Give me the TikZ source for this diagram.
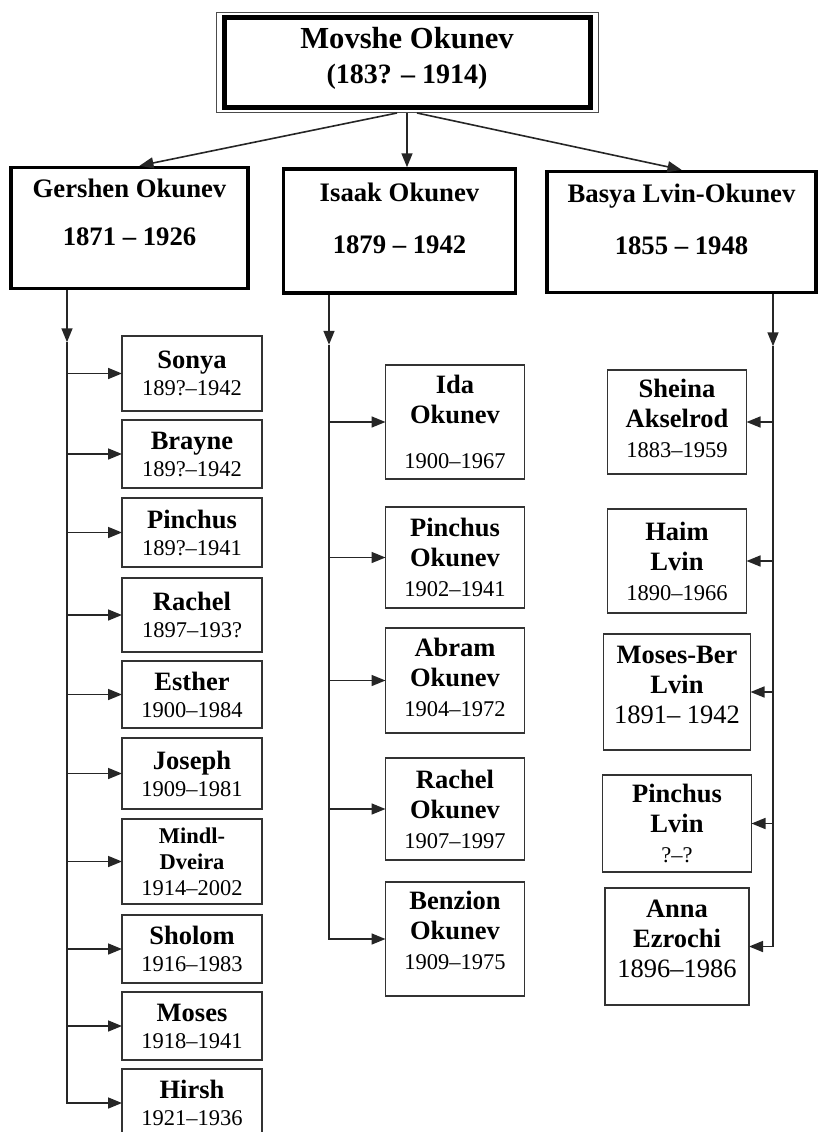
\documentclass[tikz,border=0pt]{standalone}
\usepackage{fontspec}
\setmainfont{Liberation Serif}
\usetikzlibrary{arrows.meta, positioning, fit}

\newcommand{\pname}[1]{{\fontsize{26.5}{30}\selectfont\bfseries #1}}

\begin{document}
\begin{tikzpicture}[
		x=1pt, y=-1pt,
		node distance=10pt,
		% Define styles
		founderbox/.style={rectangle, draw=black, line width=5pt, outer sep=0pt, minimum width=366pt, minimum height=90pt, align=center, font=\fontsize{30.6}{35}\selectfont\bfseries},
		outerframe/.style={rectangle, draw=black!70, line width=1pt, inner xsep=8pt, inner ysep=5pt},
		parentbox/.style={rectangle, draw=black, line width=3.5pt, align=center, font=\fontsize{26.7}{32}\selectfont\bfseries},
		childbox/.style={rectangle, draw=black!80, line width=1.4pt, outer sep=0pt, inner sep=2pt, minimum width=139pt, align=center, font=\fontsize{22.5}{30}\selectfont},
		gchildbox/.style={childbox, minimum width=140pt, font=\fontsize{22.5}{27}\selectfont},
		arrow/.style={draw=black!85, line width=1.6pt, -{Triangle[length=14pt, width=11pt]}},
		connector/.style={draw=black!85, line width=1.6pt}
		]
		\useasboundingbox (0,0) rectangle (819,1132);
		
		% Founder
		\node (movshe) [founderbox] at (407,62.5) {Movshe Okunev\\{\fontsize{28}{35}\selectfont (183? -- 1914)}\\[-20pt]\mbox{}};
		\node (frame) [outerframe, fit=(movshe)] {};
		
		% Second generation
		\node (gershen) [parentbox, minimum width=237pt, minimum height=121pt] at (129.5,228) {Gershen Okunev\\[16pt]1871 -- 1926\\\mbox{}};
		\node (isaak) [parentbox, minimum width=232pt, minimum height=124pt] at (399.5,231) {Isaak Okunev\\[20pt]1879 -- 1942\\[-6pt]\mbox{}};
		\node (basya) [parentbox, minimum width=269pt, minimum height=121pt] at (681.5,232) {Basya Lvin-Okunev\\[20pt]1855 -- 1948\\[-6pt]\mbox{}};
		
		% Gershen's children
		\node (sonya) [gchildbox, minimum height=75pt] at (192,373.5) {\pname{Sonya}\\189?--1942};
		\node (brayne) [gchildbox, minimum height=68pt, below=9pt of sonya] {\pname{Brayne}\\189?--1942};
		\node (pinchusg) [gchildbox, minimum height=69pt, below=of brayne] {\pname{Pinchus}\\189?--1941};
		\node (rachelg) [gchildbox, minimum height=74pt, below=11pt of pinchusg] {\pname{Rachel}\\1897--193?};
		\node (esther) [gchildbox, minimum height=67pt, below=9pt of rachelg] {\pname{Esther}\\1900--1984};
		\node (joseph) [gchildbox, minimum height=71pt, below=of esther] {\pname{Joseph}\\1909--1981};
		\node (mindl) [gchildbox, minimum height=85pt, below=of joseph, font=\fontsize{22.5}{26}\selectfont] {\textbf{Mindl-}\\\textbf{Dveira}\\1914--2002};
		\node (sholom) [gchildbox, minimum height=68pt, below=11pt of mindl] {\pname{Sholom}\\1916--1983};
		\node (moses) [gchildbox, minimum height=68pt, below=9pt of sholom] {\pname{Moses}\\1918--1941};
		\node (hirsh) [gchildbox, minimum height=68pt, below=9pt of moses] {\pname{Hirsh}\\1921--1936};
		
		% Isaak's children
		\node (ida) [childbox, minimum height=114pt] at (455,422) {\pname{Ida}\\\pname{Okunev}\\[15pt]1900--1967};
		\node (pinchusi) [childbox, minimum height=101pt, below=28pt of ida] {\pname{Pinchus}\\\pname{Okunev}\\1902--1941};
		\node (abram) [childbox, minimum height=105pt, below=20pt of pinchusi] {\pname{Abram}\\\pname{Okunev}\\1904--1972\\[-24pt]\mbox{}};
		\node (racheli) [childbox, minimum height=102pt, below=25pt of abram] {\pname{Rachel}\\\pname{Okunev}\\1907--1997};
		\node (benzion) [childbox, minimum height=114pt, below=22pt of racheli] {\pname{Benzion}\\\pname{Okunev}\\1909--1975\\[-12pt]\mbox{}};
		
		% Basya's children
		\node (sheina) [childbox, minimum height=104pt] at (677,422) {\pname{Sheina}\\\pname{Akselrod}\\1883--1959\\[-22pt]\mbox{}};
		\node (haim) [childbox, minimum height=104pt, below=35pt of sheina] {\pname{Haim}\\\pname{Lvin}\\1890--1966};
		\node (mosesber) [childbox, minimum width=147pt, minimum height=116pt, below=21pt of haim] {\pname{Moses-Ber}\\\pname{Lvin}\\{\fontsize{26.5}{30}\selectfont 1891-- 1942}\\[-16pt]\mbox{}};
		\node (pinchusl) [childbox, minimum width=149pt, minimum height=97pt, below=25pt of mosesber] {\pname{Pinchus}\\\pname{Lvin}\\?--?};
		\node (anna) [childbox, minimum width=144pt, minimum height=117pt, below=16pt of pinchusl] {\pname{Anna}\\\pname{Ezrochi}\\{\fontsize{26.5}{30}\selectfont 1896--1986}\\[-14pt]\mbox{}};
		
		% Arrows from the founder
		\draw [arrow] ([xshift=-10pt]frame.south) -- ([xshift=10pt]gershen.north);
		\draw [arrow] (frame.south) -- (frame.south |- isaak.north);
		\draw [arrow] ([xshift=10pt]frame.south) -- (basya.north);
		
		% Gershen's line
		\coordinate (gtop) at ([xshift=-62.5pt]gershen.south);
		\draw [arrow] (gtop) -- ++(0,52) coordinate (gsplit);
		\draw [arrow] (gsplit |- sonya) -- (sonya);
		\draw [arrow] (gsplit |- brayne) -- (brayne);
		\draw [arrow] (gsplit |- pinchusg) -- (pinchusg);
		\draw [arrow] (gsplit |- rachelg) -- (rachelg);
		\draw [arrow] (gsplit |- esther) -- (esther);
		\draw [arrow] (gsplit |- joseph) -- (joseph);
		\draw [arrow] (gsplit |- mindl) -- (mindl);
		\draw [arrow] (gsplit |- sholom) -- (sholom);
		\draw [arrow] (gsplit |- moses) -- (moses);
		\draw [arrow] (gsplit) |- (hirsh);
		
		% Isaak's line
		\coordinate (itop) at ([xshift=-70.5pt]isaak.south);
		\draw [arrow] (itop) -- ++(0,50) coordinate (isplit);
		\draw [arrow] (isplit |- ida) -- (ida);
		\draw [arrow] (isplit |- pinchusi) -- (pinchusi);
		\draw [arrow] (isplit |- abram) -- (abram);
		\draw [arrow] (isplit |- racheli) -- (racheli);
		\draw [arrow] (isplit) |- (benzion);
		
		% Basya's line
		\coordinate (btop) at ([xshift=91.5pt]basya.south);
		\draw [arrow] (btop) -- ++(0,52) coordinate (bsplit);
		\draw [arrow] (bsplit |- sheina) -- (sheina);
		\draw [arrow] (bsplit |- haim) -- (haim);
		\draw [arrow] (bsplit |- mosesber) -- (mosesber);
		\draw [arrow] (bsplit |- pinchusl) -- (pinchusl);
		\draw [arrow] (bsplit) |- (anna);
		
	\end{tikzpicture}
\end{document}
